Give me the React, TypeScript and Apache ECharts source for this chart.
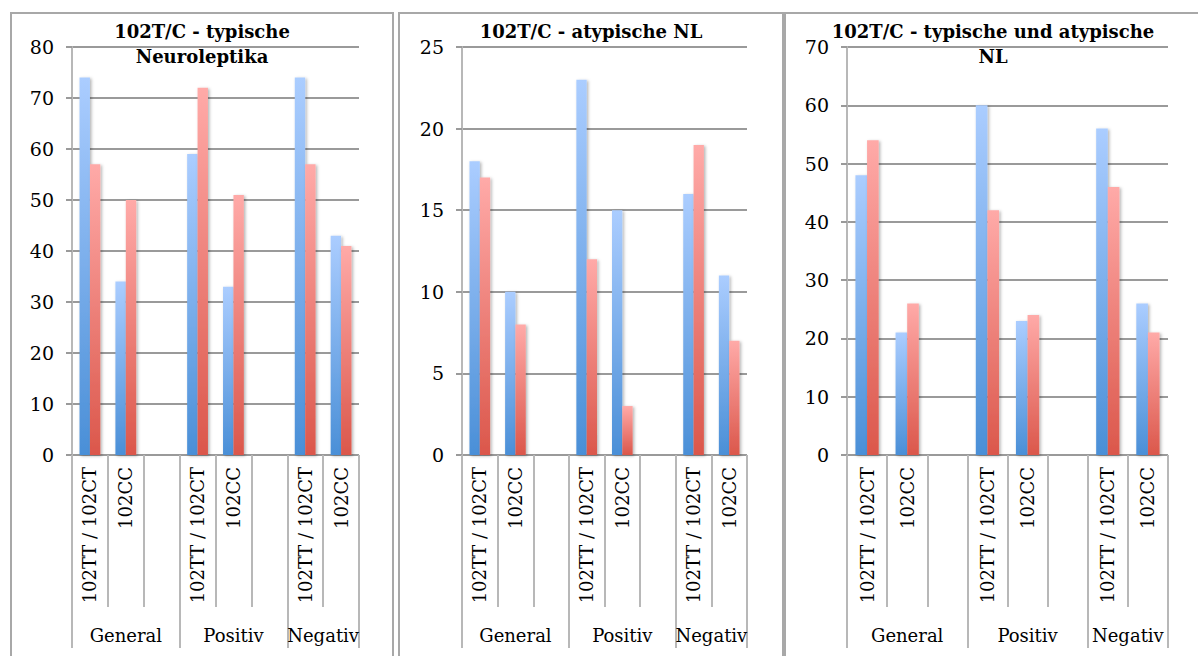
import React, { useEffect, useRef } from 'react';
import * as echarts from 'echarts';

// ---- data ----
const slotLabels = ['102TT / 102CT', '102CC', '', '102TT / 102CT', '102CC', '', '102TT / 102CT', '102CC'];
const groupNames = ['General', 'Positiv', 'Negativ'];
const groupSizes = [3, 3, 2];
const titles = ['102T/C - typische\nNeuroleptika', '102T/C - atypische NL', '102T/C - typische und atypische\nNL'];
const yMax = [80, 25, 70];
const yStep = [10, 5, 10];
// one value per slot; null = empty spacer slot
const typBlue = [74, 34, null, 59, 33, null, 74, 43];
const typRed = [57, 50, null, 72, 51, null, 57, 41];
const atypBlue = [18, 10, null, 23, 15, null, 16, 11];
const atypRed = [17, 8, null, 12, 3, null, 19, 7];
const allBlue = [48, 21, null, 60, 23, null, 56, 26];
const allRed = [54, 26, null, 42, 24, null, 46, 21];

const blueSeries = [typBlue, atypBlue, allBlue];
const redSeries = [typRed, atypRed, allRed];

// ---- layout / style ----
const FONT = '"DejaVu Serif", serif';
const panels = [
  { left: 72, width: 287, frameX: 11, frameW: 382, cx: 202 },
  { left: 462, width: 285, frameX: 399, frameW: 384, cx: 591 },
  { left: 847, width: 321, frameX: 785, frameW: 450, cx: 993 },
];
const GRID_TOP = 47;
const GRID_H = 408;

const groupStarts: number[] = [];
const groupCenters: number[] = [];
{
  let s = 0;
  groupSizes.forEach((n) => {
    groupStarts.push(s);
    groupCenters.push(s + n / 2);
    s += n;
  });
}
const totalSlots = groupSizes.reduce((a, b) => a + b, 0);

const grad = (top: string, bottom: string) =>
  new echarts.graphic.LinearGradient(0, 0, 0, 1, [
    { offset: 0, color: top },
    { offset: 1, color: bottom },
  ]);

export default function App() {
  const ref = useRef<HTMLDivElement>(null);
  useEffect(() => {
    if (!ref.current) return;
    const chart = echarts.init(ref.current, undefined, { renderer: 'svg' });
    const sepColor = '#b8b8b8';
    const gridColor = '#9a9a9a';

    const grid: any[] = [];
    const xAxis: any[] = [];
    const yAxis: any[] = [];
    const series: any[] = [];
    const graphic: any[] = [];

    panels.forEach((p, i) => {
      grid.push({ left: p.left, top: GRID_TOP, width: p.width, height: GRID_H, containLabel: false });
      // level 1: slot labels
      xAxis.push({
        type: 'category',
        gridIndex: i,
        position: 'bottom',
        data: slotLabels,
        axisLine: { show: false },
        axisTick: { show: true, interval: 0, length: 152, lineStyle: { color: sepColor, width: 2 } },
        axisLabel: { interval: 0, rotate: 90, margin: 12, fontFamily: FONT, fontSize: 18, color: '#000' },
        splitLine: { show: false },
      });
      // level 2: group separators
      xAxis.push({
        type: 'category',
        gridIndex: i,
        position: 'bottom',
        data: slotLabels,
        axisLine: { show: false },
        axisTick: {
          show: true,
          interval: (idx: number) => groupStarts.includes(idx),
          length: 193,
          lineStyle: { color: sepColor, width: 2 },
        },
        axisLabel: { show: false },
        splitLine: { show: false },
      });
      // level 2: group names
      xAxis.push({
        type: 'value',
        gridIndex: i,
        position: 'bottom',
        min: 0,
        max: totalSlots,
        interval: 0.5,
        axisLine: { show: false },
        axisTick: { show: false },
        splitLine: { show: false },
        axisLabel: {
          margin: 171,
          fontFamily: FONT,
          fontSize: 18,
          color: '#000',
          showMinLabel: true,
          showMaxLabel: true,
          formatter: (v: number) => {
            const k = groupCenters.findIndex((c) => Math.abs(c - v) < 1e-6);
            return k >= 0 ? groupNames[k] : '';
          },
        },
      });
      yAxis.push({
        type: 'value',
        gridIndex: i,
        min: 0,
        max: yMax[i],
        interval: yStep[i],
        axisLine: { show: true, lineStyle: { color: sepColor, width: 2 } },
        axisTick: { show: true, length: 6, lineStyle: { color: gridColor, width: 2 } },
        splitLine: { show: true, lineStyle: { color: gridColor, width: 2 } },
        axisLabel: { margin: 18, fontFamily: FONT, fontSize: 19, color: '#000' },
      });
      const common = {
        type: 'bar',
        xAxisIndex: i * 3,
        yAxisIndex: i,
        barGap: '0%',
        barCategoryGap: '42%',
      };
      series.push({
        ...common,
        name: 'Reihe 1',
        data: blueSeries[i],
        itemStyle: {
          color: grad('#abcdff', '#4a8fd7'),
          shadowBlur: 3,
          shadowColor: 'rgba(0,0,0,0.3)',
          shadowOffsetX: 1.5,
          shadowOffsetY: 1,
        },
      });
      series.push({
        ...common,
        name: 'Reihe 2',
        data: redSeries[i],
        itemStyle: {
          color: grad('#ffaaa8', '#db574b'),
          shadowBlur: 3,
          shadowColor: 'rgba(0,0,0,0.3)',
          shadowOffsetX: 1.5,
          shadowOffsetY: 1,
        },
      });
      graphic.push({
        type: 'rect',
        shape: { x: p.frameX, y: 13, width: p.frameW, height: 700 },
        style: { fill: 'none', stroke: '#a8a8a8', lineWidth: 2 },
        silent: true,
      });
      graphic.push({
        type: 'text',
        x: p.cx,
        y: 19,
        style: {
          text: titles[i],
          fontFamily: FONT,
          fontSize: 18,
          fontWeight: 'bold',
          lineHeight: 25,
          align: 'center',
          verticalAlign: 'top',
          fill: '#000',
        },
        z: 10,
      });
    });

    chart.setOption({
      animation: false,
      backgroundColor: '#fff',
      grid,
      xAxis,
      yAxis,
      series,
      graphic,
    });
    return () => chart.dispose();
  }, []);
  return (
    <div
      ref={ref}
      style={{ position: 'fixed', left: 0, top: 0, width: 1198, height: 656 }}
    />
  );
}
